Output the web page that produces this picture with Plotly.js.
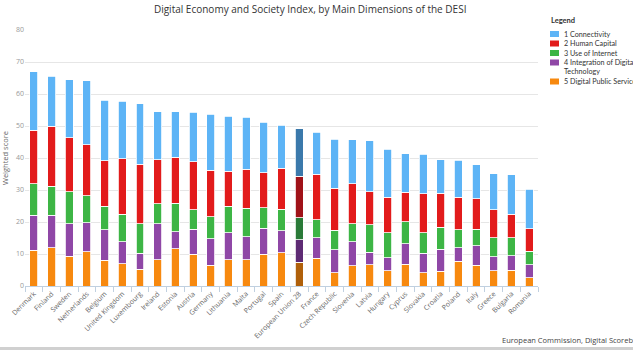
<!DOCTYPE html>
<html>
<head>
<meta charset="utf-8">
<script src="https://cdn.plot.ly/plotly-3.0.1.min.js"></script>
<style>html,body{margin:0;padding:0;background:#fff;}#chart{width:633px;height:350px;}</style>
</head>
<body>
<div id="chart"></div>
<script>
var countries = ["Denmark","Finland","Sweden","Netherlands","Belgium","United Kingdom","Luxembourg","Ireland","Estonia","Austria","Germany","Lithuania","Malta","Portugal","Spain","European Union 28","France","Czech Republic","Slovenia","Latvia","Hungary","Cyprus","Slovakia","Croatia","Poland","Italy","Greece","Bulgaria","Romania"];
var digitalPublicService = [11.2,11.9,9.3,10.7,8.0,7.0,5.2,8.2,11.6,9.9,6.5,8.2,8.2,10.0,10.4,7.5,8.7,4.1,6.4,6.6,4.7,6.8,4.1,4.6,7.8,6.5,4.8,4.9,2.6];
var integrationDigitalTech = [10.9,10.2,10.2,9.1,9.6,6.9,5.1,11.2,5.3,7.8,8.2,8.5,7.2,8.1,6.8,7.0,6.4,7.3,7.4,4.0,4.2,6.4,6.1,6.9,4.1,6.1,4.4,4.5,4.0];
var useOfInternet = [9.9,9.1,9.9,8.4,7.4,8.6,9.2,6.3,9.0,6.2,7.0,8.2,8.9,6.3,6.8,6.9,5.6,6.0,5.7,8.5,7.8,6.9,6.5,6.8,5.7,5.1,5.9,5.7,4.3];
var humanCapital = [16.7,18.7,17.0,15.9,14.2,17.2,18.6,13.8,14.4,15.0,14.5,10.9,12.2,11.0,12.8,12.9,14.3,13.2,12.4,10.4,11.0,9.2,12.1,10.7,10.2,9.5,8.7,7.4,7.0];
var connectivity = [18.2,15.6,18.1,20.0,18.8,18.0,18.8,15.0,14.2,15.4,17.4,17.2,16.3,15.8,13.5,14.8,13.0,15.3,13.8,15.9,15.0,12.0,12.3,10.5,11.5,10.7,11.3,12.2,12.3];
var seriesNames = ["5 Digital Public Service","4 Integration of Digital<br>Technology","3 Use of Internet","2 Human Capital","1 Connectivity"];
var highlight = "European Union 28";

var baseColors = ["#f7890f","#8f47a6","#3db545","#e21b1b","#5db4f6"];
var darkColors = ["#b0600a","#5e2b74","#2a7a38","#a01218","#3b79ab"];
var seriesValues = [digitalPublicService, integrationDigitalTech, useOfInternet, humanCapital, connectivity];

var traces = seriesValues.map(function(vals, i){
  return {
    type: "bar",
    name: seriesNames[i],
    x: countries,
    y: vals,
    marker: {
      color: countries.map(function(c){ return c === highlight ? darkColors[i] : baseColors[i]; }),
      line: {color: "#ffffff", width: 0.8}
    },
    hoverinfo: "x+y+name"
  };
});

var F = "'Open Sans', 'DejaVu Sans', sans-serif";
var FL = "Lato, 'Open Sans', sans-serif";
var M = {l: 25, r: 95, t: 30, b: 64};
var W = 633, H = 350;
var pw = W - M.l - M.r, ph = H - M.t - M.b;
function px(x){ return (x - M.l) / pw; }
function py(y){ return (H - M.b - y) / ph; }

var annotations = [{
  xref: "paper", yref: "paper", x: px(500), y: py(340), xanchor: "left", yanchor: "middle",
  text: "European Commission, Digital Scoreboard", showarrow: false,
  font: {family: F, size: 7.5, color: "#444"}
}, {
  xref: "paper", yref: "paper", x: px(549), y: py(20.5), xanchor: "left", yanchor: "middle",
  text: "<b>Legend</b>", showarrow: false, font: {family: FL, size: 7.5, color: "#333"}
}];
var shapes = [{
  type: "rect", xref: "paper", yref: "paper",
  x0: px(0), x1: px(W), y0: py(350), y1: py(347),
  fillcolor: "#d0d0d0", line: {width: 0}
}];
// legend (Connectivity first, as in the reference)
var legendY = [34, 43.5, 53, 62.5, 81.5];
for (var k = 0; k < 5; k++) {
  var i = 4 - k;
  var yc = legendY[k];
  var name = seriesNames[i];
  var yText = (name.indexOf("<br>") >= 0) ? yc + 4.8 : yc;
  shapes.push({type: "rect", xref: "paper", yref: "paper",
    x0: px(550), x1: px(559), y0: py(yc + 3), y1: py(yc - 3),
    fillcolor: baseColors[i], line: {width: 0}});
  annotations.push({xref: "paper", yref: "paper", x: px(562), y: py(yText),
    xanchor: "left", yanchor: "middle", align: "left", showarrow: false,
    text: name, font: {family: FL, size: 7.2, color: "#333"}});
}

var layout = {
  width: W, height: H,
  margin: M,
  paper_bgcolor: "#ffffff", plot_bgcolor: "#ffffff",
  barmode: "stack",
  bargap: 0.55,
  showlegend: false,
  font: {family: F, size: 8, color: "#666"},
  title: {text: "Digital Economy and Society Index, by Main Dimensions of the DESI",
          font: {family: F, size: 10, color: "#333"}, x: 0.49, xanchor: "center", y: 0.972, yanchor: "middle"},
  xaxis: {
    type: "category",
    tickangle: -45,
    tickfont: {family: F, size: 7, color: "#666"},
    showline: true, linecolor: "#c0d0e0", linewidth: 1,
    ticks: "outside", ticklen: 5, tickcolor: "#c0d0e0", tickson: "boundaries",
    showgrid: false, zeroline: false
  },
  yaxis: {
    range: [0, 80], dtick: 10,
    tickfont: {family: F, size: 7, color: "#999"},
    gridcolor: "#e6e6e6", gridwidth: 1,
    zeroline: false, showline: false, ticks: "",
    title: {text: "Weighted score", font: {family: F, size: 7.5, color: "#666"}, standoff: 6}
  },
  annotations: annotations,
  shapes: shapes
};
Plotly.newPlot("chart", traces, layout, {displayModeBar: false, responsive: false});
</script>
</body>
</html>
